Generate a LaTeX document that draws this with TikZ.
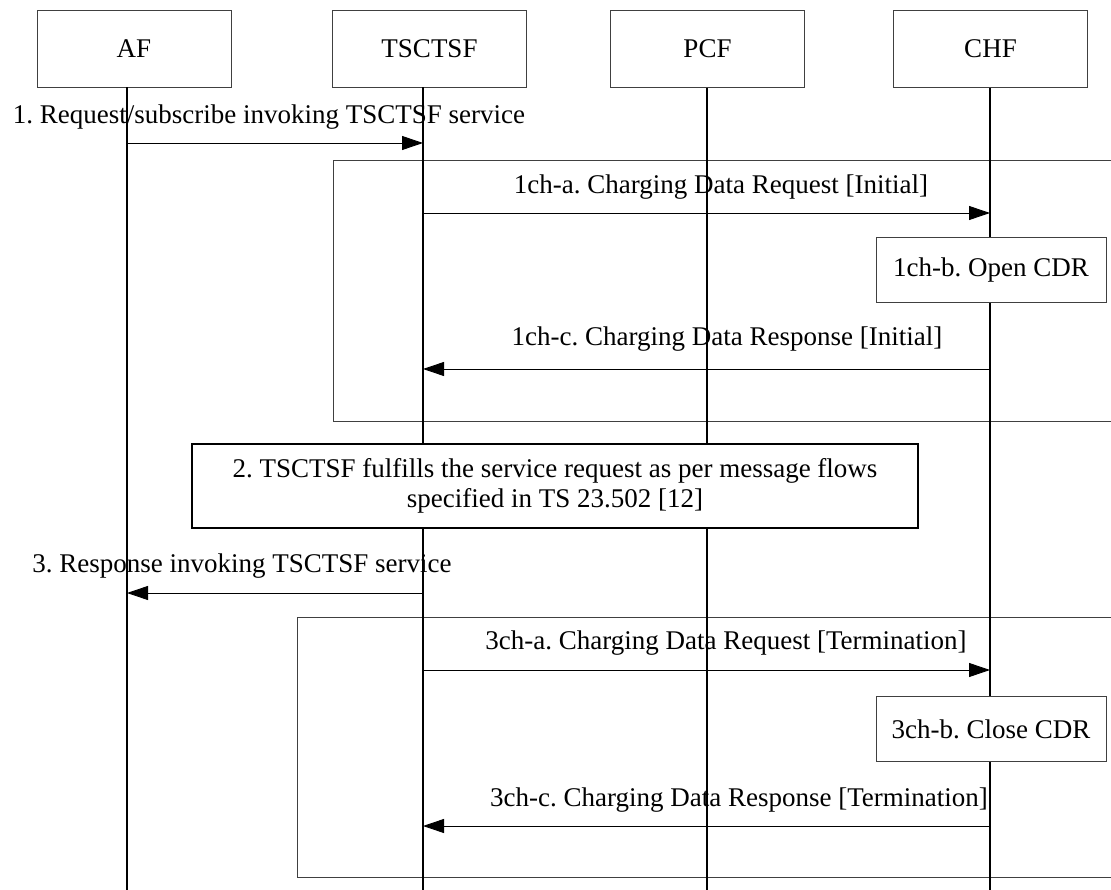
\documentclass[tikz,border=0pt]{standalone}
\usepackage{fontspec}
\setmainfont{Liberation Serif}
\usetikzlibrary{arrows.meta}
\frenchspacing
\begin{document}
\begin{tikzpicture}[x=1pt,y=-1pt,
  font=\fontsize{27}{30}\selectfont,
  head/.style={draw=black!75, line width=0.9pt, minimum width=194pt, minimum height=77pt, inner sep=0pt},
  life/.style={line width=1.2pt},
  msg/.style={line width=0.9pt, -{Triangle[length=21pt,width=14pt]}},
  lbl/.style={anchor=base, inner sep=0pt},
  framebox/.style={draw=black!75, line width=0.9pt},
  actbox/.style={draw=black!75, fill=white, line width=0.9pt, minimum width=230pt, minimum height=65pt, inner sep=0pt},
  stepbox/.style={draw=black, fill=white, line width=1.4pt, minimum width=726pt, minimum height=84pt, inner sep=0pt, align=center}
]
\useasboundingbox (0,0) rectangle (1111,890);

% header boxes
\node[head] (af) at (134,48.5) {AF};
\node[head] (ts) at (429.5,48.5) {TSCTSF};
\node[head] (pcf) at (707.5,49) {PCF};
\node[head] (chf) at (990.5,49) {CHF};

% lifeline ends
\coordinate (afl) at (127,890);
\coordinate (tsl) at (423,890);
\coordinate (pcfl) at (707,890);
\coordinate (chfl) at (990,890);

% frames
\draw[framebox] (1112,160) -| (333,421) -- (1112,421);
\draw[framebox] (1112,617) -| (297,877) -- (1112,877);

% lifelines
\draw[life] (af.south -| afl) -- (afl);
\draw[life] (ts.south -| tsl) -- (tsl);
\draw[life] (pcf.south -| pcfl) -- (pcfl);
\draw[life] (chf.south -| chfl) -- (chfl);

% message end points
\coordinate (m1a) at (afl |- 0,143);
\coordinate (m1b) at (tsl |- 0,143);
\coordinate (m2a) at (tsl |- 0,213);
\coordinate (m2b) at (chfl |- 0,213);
\coordinate (m3a) at (chfl |- 0,369);
\coordinate (m3b) at (tsl |- 0,369);
\coordinate (m4a) at (tsl |- 0,593);
\coordinate (m4b) at (afl |- 0,593);
\coordinate (m5a) at (tsl |- 0,670);
\coordinate (m5b) at (chfl |- 0,670);
\coordinate (m6a) at (chfl |- 0,826);
\coordinate (m6b) at (tsl |- 0,826);

% messages
\draw[msg] (m1a) -- (m1b);
\node[lbl] (l1) at (269,124) {1. Request/subscribe invoking TSCTSF service};

\draw[msg] (m2a) -- (m2b);
\node[lbl] (l2) at (721,194) {1ch-a. Charging Data Request [Initial]};

\node[actbox] (open) at (991,270) {1ch-b. Open CDR};

\draw[msg] (m3a) -- (m3b);
\node[lbl] (l3) at (727,346) {1ch-c. Charging Data Response [Initial]};

\node[stepbox] (step2) at (555,486) {2. TSCTSF fulfills the service request as per message flows\\specified in TS 23.502 [12]};

\draw[msg] (m4a) -- (m4b);
\node[lbl] (l4) at (242,572) {3. Response invoking TSCTSF service};

\draw[msg] (m5a) -- (m5b);
\node[lbl] (l5) at (726,649) {3ch-a. Charging Data Request [Termination]};

\node[actbox] (close) at (991,729) {3ch-b. Close CDR};

\draw[msg] (m6a) -- (m6b);
\node[lbl] (l6) at (739,806) {3ch-c. Charging Data Response [Termination]};
\end{tikzpicture}
\end{document}
